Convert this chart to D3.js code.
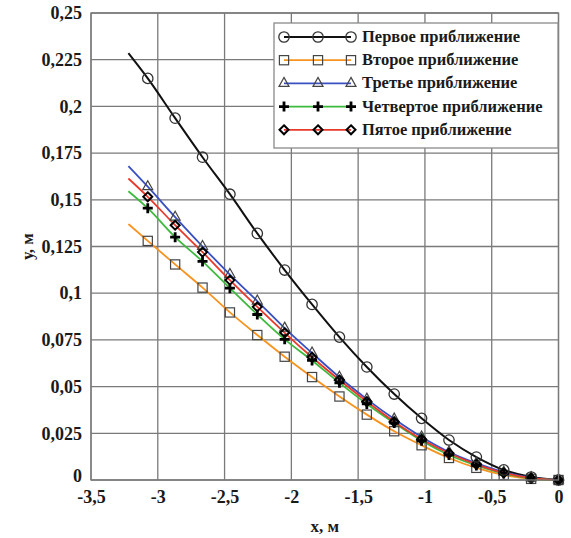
<!DOCTYPE html>
<html>
<head>
<meta charset="utf-8">
<script src="https://cdn.jsdelivr.net/npm/d3@7"></script>
<style>
  html, body { margin: 0; padding: 0; background: #fff; }
  svg { display: block; }
  text { font-family: "Liberation Serif", "Times New Roman", serif; font-weight: bold; fill: #1a1a1a; }
</style>
</head>
<body>
<svg id="chart" width="571" height="538"></svg>
<script>
// Abscissae of the computed points (m)
const xPoints = [-3.075, -2.87, -2.665, -2.46, -2.255, -2.05, -1.845, -1.64, -1.435, -1.23, -1.025, -0.82, -0.615, -0.41, -0.205, 0];
// Curves are drawn from this abscissa onward
const curveStartX = -3.22;

const seriesNames = ["Первое приближение", "Второе приближение", "Третье приближение", "Четвертое приближение", "Пятое приближение"];

// Deflection y (m) for each approximation at xPoints
const approx1 = [0.215, 0.1937, 0.1728, 0.153, 0.132, 0.1124, 0.094, 0.0765, 0.0605, 0.046, 0.033, 0.0214, 0.0123, 0.0054, 0.0016, 0];
const approx2 = [0.128, 0.1154, 0.103, 0.0897, 0.0776, 0.066, 0.0551, 0.0447, 0.035, 0.0261, 0.0186, 0.0118, 0.0065, 0.0027, 0.0006, 0];
const approx3 = [0.157, 0.1407, 0.125, 0.110, 0.0958, 0.0813, 0.068, 0.055, 0.0433, 0.0326, 0.023, 0.015, 0.009, 0.0042, 0.0012, 0];
const approx4 = [0.1455, 0.130, 0.117, 0.1027, 0.0886, 0.0753, 0.064, 0.052, 0.0407, 0.0305, 0.021, 0.0134, 0.0078, 0.0035, 0.0008, 0];
const approx5 = [0.1516, 0.1364, 0.122, 0.107, 0.0927, 0.0788, 0.0657, 0.0535, 0.042, 0.0312, 0.0218, 0.0143, 0.0084, 0.0038, 0.001, 0];
// Curve values at curveStartX
const curveStartY = [0.2285, 0.137, 0.168, 0.1546, 0.1614];

const xTicks = [-3.5, -3, -2.5, -2, -1.5, -1, -0.5, 0];
const yTicks = [0, 0.025, 0.05, 0.075, 0.1, 0.125, 0.15, 0.175, 0.2, 0.225, 0.25];

const colors = ["#111111", "#f7931e", "#3a4fc0", "#3dba3d", "#e8392b"];
const symbols = ["circle", "square", "triangle", "plus", "diamond"];
const allSeries = [approx1, approx2, approx3, approx4, approx5];

const svg = d3.select("#chart");
const W = 571, H = 538;
const margin = { top: 13, right: 12.5, bottom: 58, left: 91 };
const iw = W - margin.left - margin.right;
const ih = H - margin.top - margin.bottom;

const x = d3.scaleLinear().domain([-3.5, 0]).range([margin.left, margin.left + iw]);
const y = d3.scaleLinear().domain([0, 0.25]).range([margin.top + ih, margin.top]);

const fmt = d => String(d).replace(".", ",");
const gridColor = "#7a7a7a";

// grid
const g = svg.append("g");
g.selectAll("line.vx").data(xTicks).join("line")
  .attr("x1", d => x(d)).attr("x2", d => x(d))
  .attr("y1", y(0)).attr("y2", y(0.25))
  .attr("stroke", gridColor).attr("stroke-width", 1.3);
g.selectAll("line.hy").data(yTicks).join("line")
  .attr("x1", x(-3.5)).attr("x2", x(0))
  .attr("y1", d => y(d)).attr("y2", d => y(d))
  .attr("stroke", gridColor).attr("stroke-width", 1.3);

// tick labels via d3 axes
const xAxis = svg.append("g").attr("transform", `translate(0,${y(0)})`)
  .call(d3.axisBottom(x).tickValues(xTicks).tickFormat(fmt).tickSize(0).tickPadding(10));
const yAxis = svg.append("g").attr("transform", `translate(${x(-3.5)},0)`)
  .call(d3.axisLeft(y).tickValues(yTicks).tickFormat(fmt).tickSize(0).tickPadding(9));
[xAxis, yAxis].forEach(a => {
  a.select(".domain").remove();
  a.selectAll("text").style("font-family", "'Liberation Serif', serif")
    .style("font-weight", "bold").style("font-size", "18px").attr("fill", "#1a1a1a");
});
yAxis.selectAll("text").filter(d => d === 0).attr("dy", "0.1em");

svg.append("text").attr("x", x(-1.75)).attr("y", 532).attr("text-anchor", "middle")
  .style("font-size", "17px").text("x, м");
svg.append("text").attr("transform", `translate(33,${y(0.125)}) rotate(-90)`).attr("text-anchor", "middle")
  .style("font-size", "17px").text("у, м");

// curves
const line = d3.line().x(d => x(d[0])).y(d => y(d[1])).curve(d3.curveMonotoneX);
[0, 1, 2, 3, 4].forEach(i => {
  const pts = [[curveStartX, curveStartY[i]]].concat(xPoints.map((xv, k) => [xv, allSeries[i][k]]));
  svg.append("path").datum(pts).attr("d", line)
    .attr("fill", "none").attr("stroke", colors[i]).attr("stroke-width", i === 0 ? 2 : 1.8);
});

// markers
function drawMarker(sel, type, cx, cy) {
  if (type === "circle") {
    sel.append("circle").attr("cx", cx).attr("cy", cy).attr("r", 5.2)
      .attr("fill", "none").attr("stroke", "#333").attr("stroke-width", 1.3);
  } else if (type === "square") {
    sel.append("rect").attr("x", cx - 4.6).attr("y", cy - 4.6).attr("width", 9.2).attr("height", 9.2)
      .attr("fill", "none").attr("stroke", "#444").attr("stroke-width", 1.2);
  } else if (type === "triangle") {
    sel.append("path").attr("d", `M${cx},${cy - 6}L${cx + 5},${cy + 3}L${cx - 5},${cy + 3}Z`)
      .attr("fill", "none").attr("stroke", "#444").attr("stroke-width", 1.2);
  } else if (type === "plus") {
    sel.append("path").attr("d", `M${cx - 5},${cy}H${cx + 5}M${cx},${cy - 5}V${cy + 5}`)
      .attr("fill", "none").attr("stroke", "#000").attr("stroke-width", 2.8);
  } else if (type === "diamond") {
    sel.append("path").attr("d", `M${cx},${cy - 4.5}L${cx + 4.5},${cy}L${cx},${cy + 4.5}L${cx - 4.5},${cy}Z`)
      .attr("fill", "none").attr("stroke", "#000").attr("stroke-width", 2);
  }
}
[1, 2, 3, 4, 0].forEach(i => {
  const gm = svg.append("g");
  xPoints.forEach((xv, k) => drawMarker(gm, symbols[i], x(xv), y(allSeries[i][k])));
});

// plot frame
svg.append("rect").attr("x", x(-3.5)).attr("y", y(0.25)).attr("width", iw).attr("height", ih)
  .attr("fill", "none").attr("stroke", gridColor).attr("stroke-width", 1.3);

// legend
const lg = svg.append("g");
lg.append("rect").attr("x", 274).attr("y", 23).attr("width", 284).attr("height", 125)
  .attr("fill", "#fff").attr("stroke", "#8a8a8a").attr("stroke-width", 1.3);
seriesNames.forEach((name, i) => {
  const ly = 37 + i * 23.2;
  lg.append("line").attr("x1", 284).attr("x2", 351).attr("y1", ly).attr("y2", ly)
    .attr("stroke", colors[i]).attr("stroke-width", i === 0 ? 2 : 1.8);
  [284, 318, 351].forEach(mx => drawMarker(lg, symbols[i], mx, ly));
  lg.append("text").attr("x", 362).attr("y", ly + 5).style("font-size", "16.5px").text(name);
});
</script>
</body>
</html>
